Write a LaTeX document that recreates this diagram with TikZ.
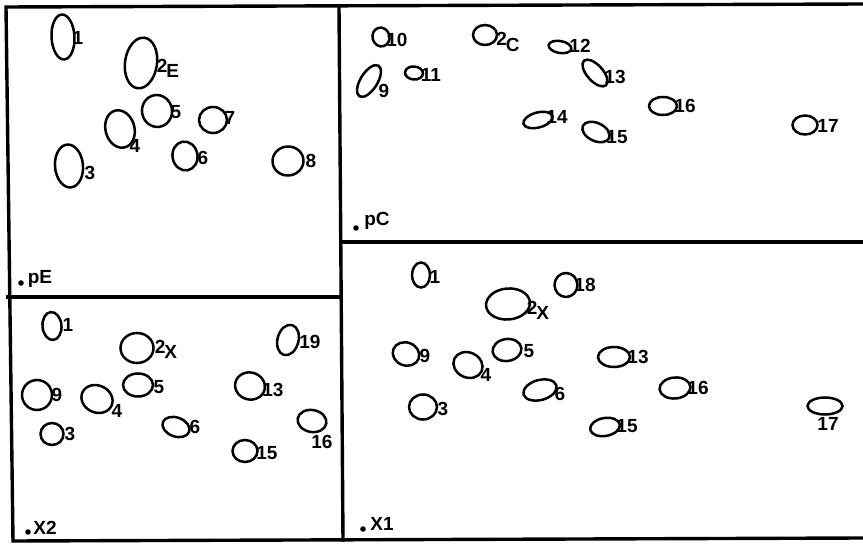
\documentclass[tikz,border=0pt]{standalone}
\usepackage{fontspec}
\setmainfont{Liberation Sans}
\usetikzlibrary{shapes.geometric}
\tikzset{
  blob/.style n args={3}{draw, ellipse, line width=1.25pt, inner sep=0pt,
    minimum width=#1*0.5pt, minimum height=#2*0.5pt, rotate=#3},
  lbl/.style={font=\bfseries\fontsize{9.5}{9.5}\selectfont, inner sep=0pt},
  plbl/.style={font=\bfseries\fontsize{9.5}{9.5}\selectfont, inner sep=0pt},
  pdot/.style={fill, circle, inner sep=0pt, minimum size=2.8pt},
  frame/.style={line width=1.7pt, line cap=rect}
}
\newcommand{\sublab}[2]{#1\kern-0.5pt\raisebox{-2.6pt}{#2}}
\begin{document}
\begin{tikzpicture}[x=0.5pt,y=-0.5pt]
\useasboundingbox (0,0) rectangle (863,545);
% frame
\coordinate (tl) at (6,7);
\coordinate (bl) at (13,541);
\coordinate (br) at (863,538);
\coordinate (tr) at (863,4);
\coordinate (vt) at (339,7);
\coordinate (vb) at (343,540);
\coordinate (hl1) at (8,297);
\coordinate (hl2) at (341,297);
\coordinate (hr1) at (341,242);
\coordinate (hr2) at (863,242);
\draw[frame] (tr) -- (tl) -- (bl) -- (br);
\draw[frame] (vt) -- (vb);
\draw[frame] (hl1) -- (hl2);
\draw[frame] (hr1) -- (hr2);

% ---------- panel pE ----------
\node[blob={23}{45}{3}] (e1) at (63,37) {};
\node[lbl] (e1l) at (78,38) {1};
\node[blob={32}{51}{-8}] (e2) at (141,63) {};
\node[lbl] (e2l) at (168,68) {\sublab{2}{E}};
\node[blob={30}{32}{10}] (e5) at (157,111) {};
\node[lbl] (e5l) at (176,112) {5};
\node[blob={29}{38}{15}] (e4) at (120,129) {};
\node[lbl] (e4l) at (135,146) {4};
\node[blob={28}{26}{0}] (e7) at (213,120) {};
\node[lbl] (e7l) at (230,118) {7};
\node[blob={25}{29}{10}] (e6) at (185,156) {};
\node[lbl] (e6l) at (203,158) {6};
\node[blob={28}{43}{5}] (e3) at (69,166) {};
\node[lbl] (e3l) at (90,173) {3};
\node[blob={31}{29}{5}] (e8) at (288,161) {};
\node[lbl] (e8l) at (311,161) {8};
\node[pdot] (edot) at (21,283) {};
\node[plbl] (elab) at (40,279) {pE};

% ---------- panel pC ----------
\node[blob={17}{19}{15}] (c10) at (381,37) {};
\node[lbl] (c10l) at (397,40) {10};
\node[blob={24}{20}{0}] (c2) at (485,35) {};
\node[lbl] (c2l) at (508,42) {\sublab{2}{C}};
\node[blob={36}{17}{58}] (c9) at (369,81) {};
\node[lbl] (c9l) at (384,91) {9};
\node[blob={23}{12}{-10}] (c12) at (560,47) {};
\node[lbl] (c12l) at (580,46) {12};
\node[blob={18}{13}{-5}] (c11) at (414,73) {};
\node[lbl] (c11l) at (431,75) {11};
\node[blob={33}{16}{-48}] (c13) at (595,73) {};
\node[lbl] (c13l) at (615,77) {13};
\node[blob={28}{18}{0}] (c16) at (663,106) {};
\node[lbl] (c16l) at (685,106) {16};
\node[blob={30}{15}{15}] (c14) at (538,120) {};
\node[lbl] (c14l) at (557,117) {14};
\node[blob={29}{18}{-25}] (c15) at (596,132) {};
\node[lbl] (c15l) at (617,137) {15};
\node[blob={25}{19}{0}] (c17) at (805,125) {};
\node[lbl] (c17l) at (828,126) {17};
\node[pdot] (cdot) at (356,228) {};
\node[plbl] (clab) at (377,221) {pC};

% ---------- panel X2 ----------
\node[blob={19}{28}{5}] (a1) at (52,326) {};
\node[lbl] (a1l) at (68,325) {1};
\node[blob={33}{30}{0}] (a2) at (137,348) {};
\node[lbl] (a2l) at (166,349) {\sublab{2}{X}};
\node[blob={21}{31}{-15}] (a19) at (288,340) {};
\node[lbl] (a19l) at (310,342) {19};
\node[blob={30}{30}{0}] (a9) at (37,395) {};
\node[lbl] (a9l) at (57,395) {9};
\node[blob={32}{27}{-25}] (a4) at (97,399) {};
\node[lbl] (a4l) at (117,411) {4};
\node[blob={30}{23}{0}] (a5) at (138,385) {};
\node[lbl] (a5l) at (159,387) {5};
\node[blob={30}{27}{-15}] (a13) at (250,386) {};
\node[lbl] (a13l) at (273,390) {13};
\node[blob={23}{22}{0}] (a3) at (52,434) {};
\node[lbl] (a3l) at (70,434) {3};
\node[blob={28}{19}{-20}] (a6) at (176,427) {};
\node[lbl] (a6l) at (195,427) {6};
\node[blob={29}{22}{-10}] (a16) at (312,421) {};
\node[lbl] (a16l) at (322,442) {16};
\node[blob={25}{22}{0}] (a15) at (245,451) {};
\node[lbl] (a15l) at (267,453) {15};
\node[pdot] (adot) at (28,532) {};
\node[plbl] (alab) at (45,528) {X2};

% ---------- panel X1 ----------
\node[blob={18}{25}{0}] (b1) at (421,275) {};
\node[lbl] (b1l) at (435,277) {1};
\node[blob={23}{24}{0}] (b18) at (566,285) {};
\node[lbl] (b18l) at (585,285) {18};
\node[blob={44}{31}{5}] (b2) at (508,304) {};
\node[lbl] (b2l) at (538,310) {\sublab{2}{X}};
\node[blob={27}{23}{-20}] (b9) at (406,354) {};
\node[lbl] (b9l) at (425,356) {9};
\node[blob={30}{25}{-25}] (b4) at (468,365) {};
\node[lbl] (b4l) at (486,375) {4};
\node[blob={29}{22}{8}] (b5) at (507,350) {};
\node[lbl] (b5l) at (529,351) {5};
\node[blob={32}{20}{0}] (b13) at (614,357) {};
\node[lbl] (b13l) at (638,357) {13};
\node[blob={34}{20}{15}] (b6) at (540,390) {};
\node[lbl] (b6l) at (560,394) {6};
\node[blob={31}{21}{5}] (b16) at (675,388) {};
\node[lbl] (b16l) at (698,388) {16};
\node[blob={28}{25}{0}] (b3) at (423,407) {};
\node[lbl] (b3l) at (443,409) {3};
\node[blob={30}{18}{10}] (b15) at (605,427) {};
\node[lbl] (b15l) at (627,426) {15};
\node[blob={35}{17}{0}] (b17) at (825,406) {};
\node[lbl] (b17l) at (828,424) {17};
\node[pdot] (bdot) at (363,529) {};
\node[plbl] (blab) at (382,524) {X1};
\end{tikzpicture}
\end{document}
